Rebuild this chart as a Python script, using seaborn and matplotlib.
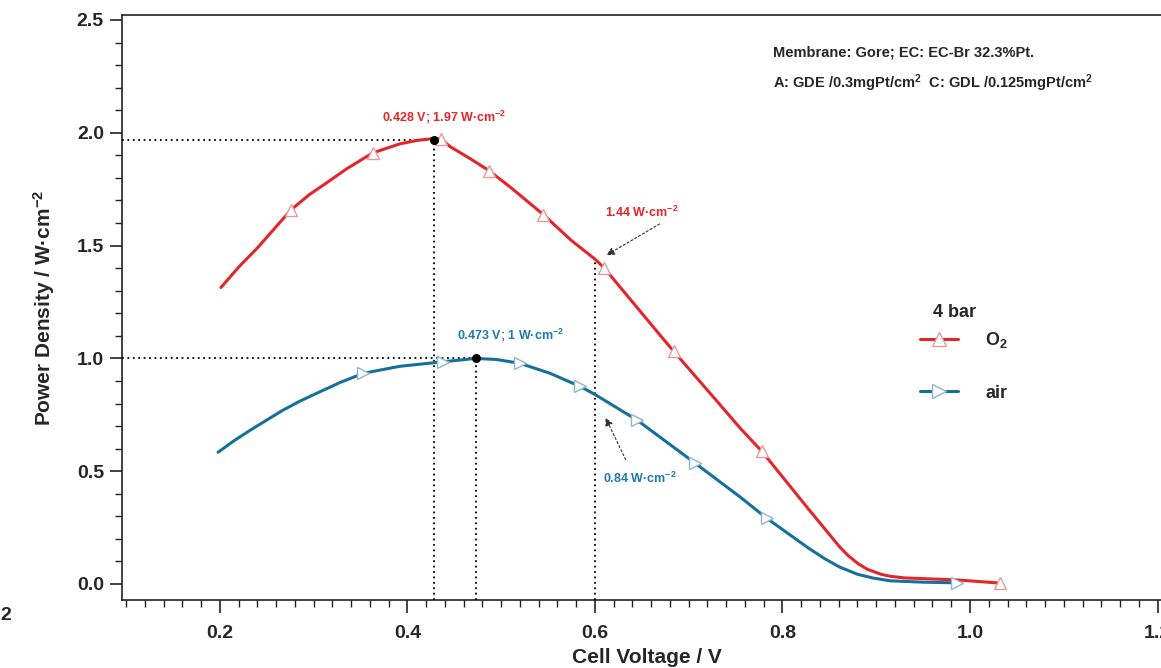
import numpy as np
import pandas as pd
import matplotlib
matplotlib.use("Agg")
import matplotlib.pyplot as plt
from matplotlib.lines import Line2D
from matplotlib.ticker import MultipleLocator
import seaborn as sns

# ---------------- data ----------------
o2_v = [0.201, 0.220, 0.240, 0.2754, 0.295, 0.314, 0.335, 0.363, 0.392, 0.410,
        0.428, 0.436, 0.445, 0.467, 0.487, 0.510, 0.545, 0.575, 0.600, 0.610,
        0.630, 0.648, 0.669, 0.684, 0.726, 0.755, 0.778, 0.826, 0.861, 0.870,
        0.880, 0.890, 0.905, 0.915, 0.930, 0.986, 1.032]
o2_p = [1.314, 1.405, 1.490, 1.657, 1.725, 1.779, 1.840, 1.911, 1.951, 1.966,
        1.975, 1.972, 1.940, 1.885, 1.832, 1.758, 1.637, 1.522, 1.440, 1.400,
        1.300, 1.210, 1.105, 1.031, 0.830, 0.690, 0.588, 0.341, 0.164, 0.126,
        0.092, 0.066, 0.043, 0.034, 0.027, 0.018, 0.004]
o2_marks = [0.2754, 0.363, 0.436, 0.487, 0.545, 0.610, 0.684, 0.778, 1.032]

air_v = [0.198, 0.215, 0.232, 0.250, 0.267, 0.285, 0.303, 0.328, 0.353, 0.392,
         0.438, 0.473, 0.495, 0.520, 0.552, 0.584, 0.600, 0.645, 0.707, 0.755,
         0.783, 0.826, 0.845, 0.861, 0.880, 0.897, 0.915, 0.950, 0.986]
air_p = [0.584, 0.635, 0.681, 0.727, 0.770, 0.810, 0.845, 0.893, 0.934, 0.965,
         0.985, 1.000, 0.995, 0.978, 0.934, 0.876, 0.840, 0.726, 0.535, 0.385,
         0.292, 0.164, 0.112, 0.075, 0.043, 0.026, 0.014, 0.008, 0.005]
air_marks = [0.353, 0.438, 0.520, 0.584, 0.645, 0.707, 0.783, 0.986]

o2_peak = (0.428, 1.97)
air_peak = (0.473, 1.00)
v_ref = 0.6
o2_at_ref = 1.44
air_at_ref = 0.84

x_ticks = [0.2, 0.4, 0.6, 0.8, 1.0, 1.2]
y_ticks = [0.0, 0.5, 1.0, 1.5, 2.0, 2.5]

RED = "#e3262a"
BLUE = "#17709a"
BLUE_T = "#1f7aab"
RED_M = "#e79a9a"
BLUE_M = "#8fb7cc"

# ---------------- style ----------------
sns.set_style("white")
plt.rcParams["font.family"] = ["Liberation Sans", "DejaVu Sans"]
plt.rcParams["font.weight"] = "bold"
plt.rcParams["mathtext.fontset"] = "custom"
plt.rcParams["mathtext.rm"] = "Liberation Sans:bold"
plt.rcParams["mathtext.it"] = "Liberation Sans:bold"
plt.rcParams["mathtext.bf"] = "Liberation Sans:bold"
plt.rcParams["mathtext.default"] = "rm"

fig = plt.figure(figsize=(11.61, 6.68), dpi=100)
ax = fig.add_axes([0.1051, 0.1018, 0.904, 0.8757])

df_o2 = pd.DataFrame({"V": o2_v, "P": o2_p})
df_air = pd.DataFrame({"V": air_v, "P": air_p})

o2_idx = [o2_v.index(m) for m in o2_marks]
air_idx = [air_v.index(m) for m in air_marks]

sns.lineplot(data=df_o2, x="V", y="P", ax=ax, color=RED, lw=2.2,
             marker="^", markevery=o2_idx, ms=8, mfc="white", mec=RED_M,
             mew=1.0, zorder=4)
sns.lineplot(data=df_air, x="V", y="P", ax=ax, color=BLUE, lw=2.2,
             marker=">", markevery=air_idx, ms=8, mfc="white", mec=BLUE_M,
             mew=1.0, zorder=4)

ax.set_xlim(0.0955, 1.215)
ax.set_ylim(-0.071, 2.522)

# reference dotted lines
dot = dict(color="black", ls=(0, (1, 2)), lw=1.3, zorder=3)
ax.plot([0.0955, o2_peak[0]], [o2_peak[1], o2_peak[1]], **dot)
ax.plot([o2_peak[0], o2_peak[0]], [-0.071, o2_peak[1]], **dot)
ax.plot([0.0955, air_peak[0]], [air_peak[1], air_peak[1]], **dot)
ax.plot([air_peak[0], air_peak[0]], [-0.071, air_peak[1]], **dot)
ax.plot([v_ref, v_ref], [-0.071, o2_at_ref], **dot)
ax.scatter([o2_peak[0], air_peak[0]], [o2_peak[1], air_peak[1]], s=30,
           color="black", zorder=6)

# annotations
ax.text(0.439, 2.07, "0.428 V; 1.97 W·cm$^{-2}$", color=RED, fontsize=9,
        ha="center", va="center", fontweight="bold")
ax.text(0.510, 1.10, "0.473 V; 1 W·cm$^{-2}$", color=BLUE_T, fontsize=9,
        ha="center", va="center", fontweight="bold")
ax.annotate("", xy=(0.6096, 1.451), xytext=(0.6715, 1.602),
            arrowprops=dict(arrowstyle="-|>", ls=(0, (2, 2)), color="#333333",
                            lw=0.8, mutation_scale=12))
ax.text(0.650, 1.645, "1.44 W·cm$^{-2}$", color=RED, fontsize=9,
        ha="center", va="center", fontweight="bold")
ax.annotate("", xy=(0.610, 0.748), xytext=(0.634, 0.54),
            arrowprops=dict(arrowstyle="-|>", ls=(0, (2, 2)), color="#333333",
                            lw=0.8, mutation_scale=12))
ax.text(0.648, 0.469, "0.84 W·cm$^{-2}$", color=BLUE_T, fontsize=9,
        ha="center", va="center", fontweight="bold")

ax.text(0.79, 2.354, "Membrane: Gore; EC: EC-Br 32.3%Pt.", fontsize=10.5,
        ha="left", va="center", fontweight="bold")
ax.text(0.79, 2.222, "A: GDE /0.3mgPt/cm$^2$  C: GDL /0.125mgPt/cm$^2$",
        fontsize=10.5, ha="left", va="center", fontweight="bold")

# legend
ax.text(0.984, 1.204, "4 bar", fontsize=13, ha="center", va="center",
        fontweight="bold")
handles = [Line2D([], [], color=RED, lw=2.2, marker="^", ms=10, mfc="white",
                  mec=RED_M, mew=1.0),
           Line2D([], [], color=BLUE, lw=2.2, marker=">", ms=10, mfc="white",
                  mec=BLUE_M, mew=1.0)]
leg = ax.legend(handles, ["O$_2$", "air"], frameon=False,
                loc="upper left", bbox_to_anchor=(0.7786, 0.530),
                bbox_transform=fig.transFigure, handlelength=2.1,
                handletextpad=1.5, labelspacing=1.9,
                prop={"size": 13, "weight": "bold"})

# stray cut-off label at the left edge of the reference image
fig.text(0.0, 0.079, "2", fontsize=14, fontweight="bold", ha="left",
         va="center")

# axes styling
for s in ax.spines.values():
    s.set_color("#222222")
    s.set_linewidth(1.2)
ax.set_xticks(x_ticks)
ax.set_yticks(y_ticks)
ax.set_xticklabels([f"{t:.1f}" for t in x_ticks])
ax.set_yticklabels([f"{t:.1f}" for t in y_ticks])
ax.xaxis.set_minor_locator(MultipleLocator(0.02))
ax.yaxis.set_minor_locator(MultipleLocator(0.1))
ax.tick_params(axis="both", which="major", direction="out", length=9,
               width=1.2, color="#222222", labelsize=14, bottom=True, left=True)
ax.tick_params(axis="both", which="minor", direction="out", length=5,
               width=1.0, color="#222222", bottom=True, left=True)
ax.tick_params(axis="x", which="major", pad=9)
ax.tick_params(axis="y", which="major", pad=4)
for lab in ax.get_xticklabels() + ax.get_yticklabels():
    lab.set_fontweight("bold")

ax.set_xlabel("Cell Voltage / V", fontsize=15, fontweight="bold", labelpad=4)
ax.set_ylabel("Power Density / W·cm$^{-2}$", fontsize=15, fontweight="bold",
              labelpad=14)

fig.savefig("out.png", dpi=100)
